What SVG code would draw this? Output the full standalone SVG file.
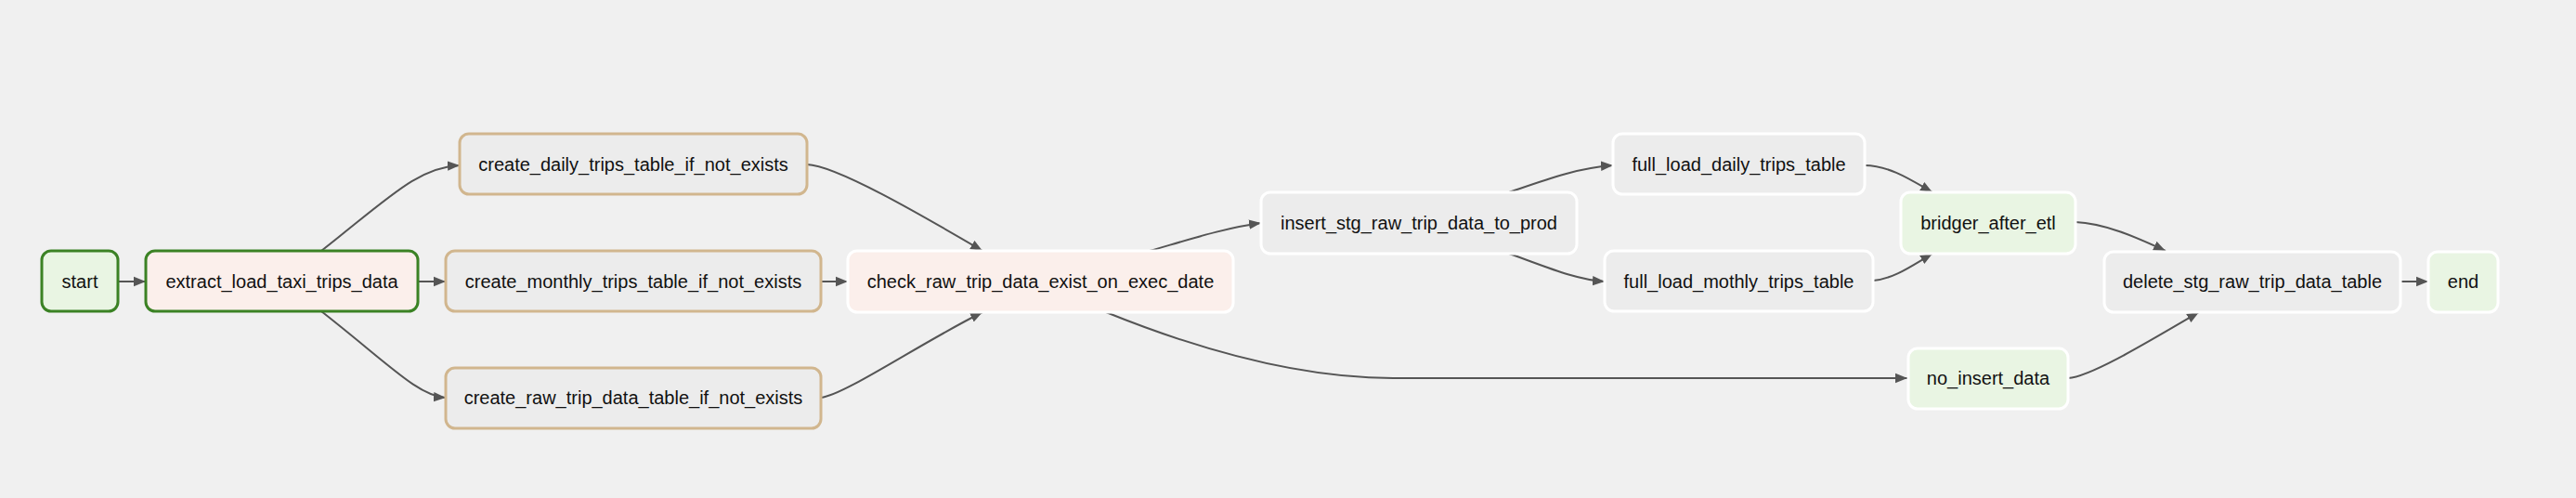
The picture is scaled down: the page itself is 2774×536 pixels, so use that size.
<svg xmlns="http://www.w3.org/2000/svg" width="2774" height="536" viewBox="0 0 2774 536">
<style>
.bg{fill:#f0f0f0}
.n rect{stroke-width:3}
.green rect{fill:#e9f5e3}
.pink rect{fill:#fbefeb}
.gray rect{fill:#ececec}
.ok rect{stroke:#3b8224}
.tan rect{stroke:#d1b68e}
.none rect{stroke:#ffffff}
.n text{font-family:"Liberation Sans",Arial,Helvetica,sans-serif;font-size:20px;fill:#111;text-anchor:middle;dominant-baseline:central}
.e path{fill:none;stroke:#555;stroke-width:2;marker-end:url(#ah)}
</style>
<defs>
<marker id="ah" markerUnits="userSpaceOnUse" markerWidth="14" markerHeight="12" refX="13" refY="6" orient="auto">
<path d="M0,0.8 L13,6 L0,11.2 z" fill="#555"/>
</marker>
</defs>
<rect class="bg" x="0" y="0" width="2774" height="536"/>
<g id="edges" class="e">
<path d="M127,303 L157,303"/>
<path d="M346,270 C420,212 450,180 495,178"/>
<path d="M346,335 C420,393 450,426 480,428"/>
<path d="M450,303 L480,303"/>
<path d="M869,177 C900,178 990,230 1058,270"/>
<path d="M884,303 L913,303"/>
<path d="M884,428 C910,425 990,370 1058,336"/>
<path d="M1238,270 C1280,258 1320,245 1358,240"/>
<path d="M1191,336 C1280,372 1390,407 1500,407 L2054,407"/>
<path d="M1625,207 C1660,195 1700,180 1737,178"/>
<path d="M1625,273 C1660,285 1695,301 1728,303"/>
<path d="M2008,178 C2035,178 2060,195 2081,207"/>
<path d="M2017,302 C2040,300 2060,285 2081,273"/>
<path d="M2235,239 C2265,240 2300,255 2332,270"/>
<path d="M2227,407 C2250,406 2310,370 2368,336"/>
<path d="M2585,303 L2615,303"/>
</g>
<g id="start" class="n green ok"><rect x="45" y="270" width="82" height="65" rx="10"/><text x="86" y="303">start</text></g>
<g id="extract_load_taxi_trips_data" class="n pink ok"><rect x="157" y="270" width="293" height="65" rx="10"/><text x="303.5" y="303">extract_load_taxi_trips_data</text></g>
<g id="create_daily_trips_table_if_not_exists" class="n gray tan"><rect x="495" y="144" width="374" height="65" rx="10"/><text x="682" y="177">create_daily_trips_table_if_not_exists</text></g>
<g id="create_monthly_trips_table_if_not_exists" class="n gray tan"><rect x="480" y="270" width="404" height="65" rx="10"/><text x="682" y="303">create_monthly_trips_table_if_not_exists</text></g>
<g id="create_raw_trip_data_table_if_not_exists" class="n gray tan"><rect x="480" y="396" width="404" height="65" rx="10"/><text x="682" y="428">create_raw_trip_data_table_if_not_exists</text></g>
<g id="check_raw_trip_data_exist_on_exec_date" class="n pink none"><rect x="913" y="270" width="415" height="66" rx="10"/><text x="1120.5" y="303">check_raw_trip_data_exist_on_exec_date</text></g>
<g id="insert_stg_raw_trip_data_to_prod" class="n gray none"><rect x="1358" y="207" width="340" height="66" rx="10"/><text x="1528" y="240">insert_stg_raw_trip_data_to_prod</text></g>
<g id="full_load_daily_trips_table" class="n gray none"><rect x="1737" y="144" width="271" height="65" rx="10"/><text x="1872.5" y="177">full_load_daily_trips_table</text></g>
<g id="full_load_mothly_trips_table" class="n gray none"><rect x="1728" y="270" width="289" height="65" rx="10"/><text x="1872.5" y="303">full_load_mothly_trips_table</text></g>
<g id="bridger_after_etl" class="n green none"><rect x="2047" y="207" width="188" height="66" rx="10"/><text x="2141" y="240">bridger_after_etl</text></g>
<g id="no_insert_data" class="n green none"><rect x="2055" y="375" width="172" height="65" rx="10"/><text x="2141" y="407">no_insert_data</text></g>
<g id="delete_stg_raw_trip_data_table" class="n gray none"><rect x="2266" y="271" width="319" height="65" rx="10"/><text x="2425.5" y="303">delete_stg_raw_trip_data_table</text></g>
<g id="end" class="n green none"><rect x="2615" y="271" width="75" height="65" rx="10"/><text x="2652.5" y="303">end</text></g>
</svg>
